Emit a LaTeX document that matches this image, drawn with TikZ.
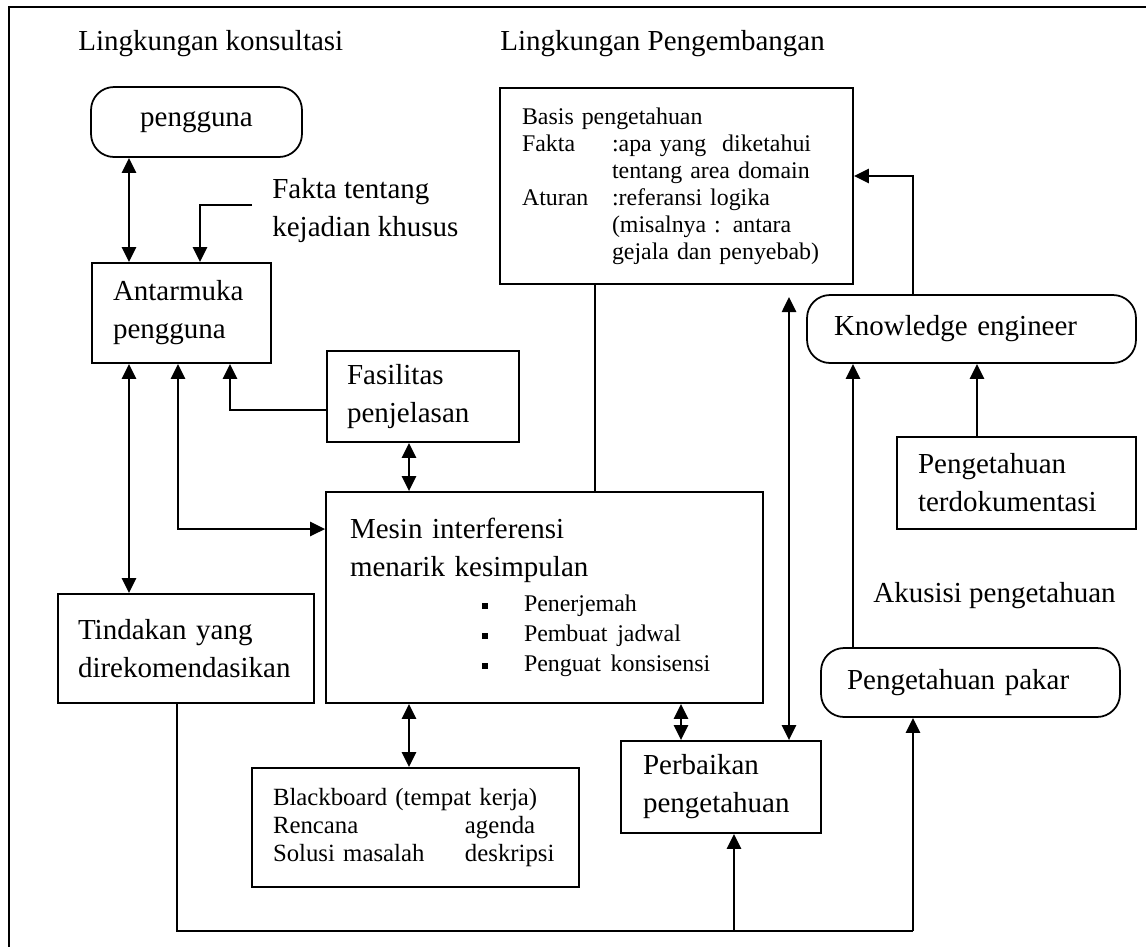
\documentclass[tikz,border=0pt]{standalone}
\usepackage{fontspec}
\setmainfont{Liberation Serif}
\usetikzlibrary{arrows.meta}
\setlength{\parindent}{0pt}

\newcommand{\besar}{\fontsize{16.5pt}{21.6pt}\selectfont}
\newcommand{\kecil}{\fontsize{13.6pt}{15.4pt}\selectfont}
\newcommand{\butir}[1]{\hspace*{2.64cm}\rule[0.06cm]{0.12cm}{0.12cm}\hspace*{0.72cm}#1}

\begin{document}
\begin{tikzpicture}[x=0.02cm, y=-0.02cm,
	kotak/.style={draw, line width=1pt, rectangle, align=left, inner ysep=0pt},
	bulat/.style={kotak, rounded corners=0.46cm},
	satu/.style={line width=1.5pt, -{Triangle[length=0.3cm, width=0.28cm]}},
	dua/.style={line width=1.5pt, {Triangle[length=0.3cm, width=0.28cm]}-{Triangle[length=0.3cm, width=0.28cm]}},
	garis/.style={line width=1pt}]
	\useasboundingbox (0,0) rectangle (1146,947);
	\draw[garis] (1146,7) -- (9,7) -- (9,947);
	
	% lingkungan konsultasi
	\node[font=\besar, anchor=base west, inner sep=0pt] (konsultasi) at (78,50) {Lingkungan konsultasi};
	\node[bulat, align=center, font=\besar, minimum width=4.22cm, minimum height=1.4cm] (pengguna) at (196.5,122) {pengguna};
	\node[font=\besar, anchor=north west, inner sep=0pt, align=left] (fakta) at (272,178) {Fakta tentang\\kejadian khusus};
	\node[kotak, font=\besar, inner xsep=0.42cm, text width=2.74cm, minimum width=3.58cm, minimum height=2cm] (antarmuka) at (181.5,313) {Antarmuka\\pengguna};
	\node[kotak, font=\besar, inner xsep=0.4cm, text width=3.04cm, minimum width=3.84cm, minimum height=1.82cm] (fasilitas) at (423,396.5) {Fasilitas\\penjelasan};
	\node[kotak, font=\besar, inner xsep=0.48cm, text width=7.78cm, minimum width=8.74cm, minimum height=4.22cm] (mesin) at (544.5,597.5)
		{{Mesin interferensi\\menarik kesimpulan\par}
		{\kecil\baselineskip=0.6cm\vskip 0.1cm
		\butir{Penerjemah}\\\butir{Pembuat jadwal}\\\butir{Penguat konsisensi}\par}};
	\node[kotak, font=\besar, inner xsep=0.4cm, text width=4.32cm, minimum width=5.12cm, minimum height=2.18cm] (tindakan) at (186,648.5) {Tindakan yang\\direkomendasikan};
	\node[kotak, font=\fontsize{14.1pt}{16.2pt}\selectfont, inner xsep=0.42cm, text width=5.7cm, minimum width=6.54cm, minimum height=2.38cm] (blackboard) at (415.5,827.5)
		{Blackboard (tempat kerja)\\\makebox[3.84cm][l]{Rencana}agenda\\\makebox[3.84cm][l]{Solusi masalah}deskripsi};
	\node[kotak, font=\besar, inner xsep=0.44cm, text width=3.12cm, minimum width=4cm, minimum height=1.84cm] (perbaikan) at (721,787) {Perbaikan\\pengetahuan};
	
	% lingkungan pengembangan
	\node[font=\besar, anchor=base west, inner sep=0pt] (pengembangan) at (500,50) {Lingkungan Pengembangan};
	\node[kotak, font=\kecil, inner xsep=0.44cm, text width=6.18cm, minimum width=7.06cm, minimum height=3.92cm] (basis) at (676.5,186)
		{Basis pengetahuan\\
		\makebox[1.8cm][l]{Fakta}:apa yang\ \ diketahui\\
		\hspace*{1.8cm}tentang area domain\\
		\makebox[1.8cm][l]{Aturan}:referansi logika\\
		\hspace*{1.8cm}(misalnya : antara\\
		\hspace*{1.8cm}gejala dan penyebab)};
	\node[bulat, font=\besar, inner xsep=0.54cm, text width=5.5cm, minimum width=6.58cm, minimum height=1.36cm] (ke) at (971.5,329) {Knowledge engineer};
	\node[kotak, font=\besar, inner xsep=0.42cm, text width=3.94cm, minimum width=4.78cm, minimum height=1.84cm] (dokumentasi) at (1016.5,483) {Pengetahuan\\terdokumentasi};
	\node[font=\besar, anchor=base west, inner sep=0pt] (akusisi) at (873,602) {Akusisi pengetahuan};
	\node[bulat, font=\besar, inner xsep=0.52cm, text width=4.94cm, minimum width=5.98cm, minimum height=1.38cm] (pakar) at (970.5,682.5) {Pengetahuan pakar};
	
	% hubungan
	\coordinate (ujungfakta) at (252,205);
	\coordinate (ujung) at (789,297);
	\coordinate (sudut) at (913,931);
	\draw[dua] (129,0 |- pengguna.south) -- (129,0 |- antarmuka.north);
	\draw[satu] (ujungfakta) -| (200,0 |- antarmuka.north);
	\draw[satu] (fasilitas.west |- 0,410) -| (230,0 |- antarmuka.south);
	\draw[dua] (178,0 |- antarmuka.south) |- (mesin.west |- 0,529);
	\draw[dua] (129,0 |- antarmuka.south) -- (129,0 |- tindakan.north);
	\draw[dua] (409,0 |- fasilitas.south) -- (409,0 |- mesin.north);
	\draw[dua] (409,0 |- mesin.south) -- (409,0 |- blackboard.north);
	\draw[dua] (681,0 |- mesin.south) -- (681,0 |- perbaikan.north);
	\draw[garis] (595,0 |- basis.south) -- (595,0 |- mesin.north);
	\draw[dua] (ujung) -- (ujung |- perbaikan.north);
	\draw[satu] (913,0 |- ke.north) |- (basis.east |- 0,176);
	\draw[satu] (853,0 |- pakar.north) -- (853,0 |- ke.south);
	\draw[satu] (977,0 |- dokumentasi.north) -- (977,0 |- ke.south);
	\draw[garis] (177,0 |- tindakan.south) |- (sudut);
	\draw[satu] (sudut) -- (pakar.south -| sudut);
	\draw[satu] (734,931) -- (734,0 |- perbaikan.south);
\end{tikzpicture}
\end{document}
